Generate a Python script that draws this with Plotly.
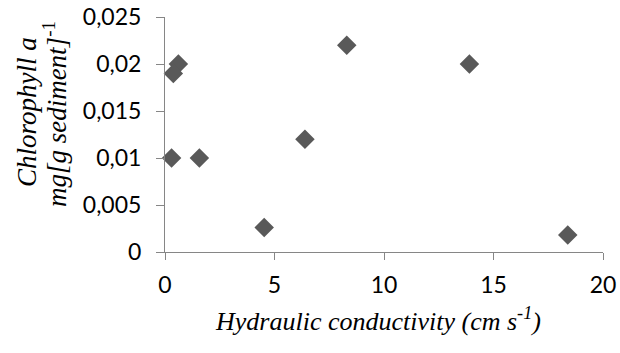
import plotly.graph_objects as go

# Data
hydraulic_conductivity = [0.61, 0.38, 0.30, 1.57, 4.53, 6.39, 8.30, 13.90, 18.39]
chlorophyll_a = [0.020, 0.019, 0.010, 0.010, 0.0026, 0.012, 0.022, 0.020, 0.0018]

x_ticks = [0, 5, 10, 15, 20]
y_ticks = [0, 0.005, 0.01, 0.015, 0.02, 0.025]

fig = go.Figure()
fig.add_trace(go.Scatter(
    x=hydraulic_conductivity, y=chlorophyll_a, mode="markers",
    marker=dict(symbol="diamond", size=15, color="#595959", line=dict(width=0)),
    showlegend=False, cliponaxis=False,
))

axis_color = "#868686"
tick_font = dict(family="Lato, Open Sans, sans-serif", size=23, color="#000000")

fig.update_layout(
    width=620, height=353,
    margin=dict(l=165, r=17, t=17, b=101),
    paper_bgcolor="white", plot_bgcolor="white",
    separators=",.",
    xaxis=dict(range=[0, 20], tickvals=x_ticks, showgrid=False, zeroline=False,
               showline=True, linecolor=axis_color, linewidth=1, automargin=False,
               ticks="outside", ticklen=7, tickcolor=axis_color, tickwidth=1,
               tickfont=tick_font, ticklabelstandoff=5),
    yaxis=dict(range=[0, 0.025], tickvals=y_ticks, showgrid=False, zeroline=False,
               showline=True, linecolor=axis_color, linewidth=1, automargin=False,
               ticks="outside", ticklen=8, tickcolor=axis_color, tickwidth=1,
               tickfont=tick_font, ticklabelstandoff=10),
)

x_title_font = dict(family="Liberation Serif, Times New Roman, serif", size=26, color="#000000")
y_title_font = dict(family="Liberation Serif, Times New Roman, serif", size=27, color="#000000")
fig.add_annotation(text="<i>Hydraulic conductivity (cm s<sup>-1</sup>)</i>",
                   xref="paper", yref="paper", x=0.4874, y=-0.289,
                   xanchor="center", yanchor="middle", showarrow=False, font=x_title_font)
fig.add_annotation(text="<i>Chlorophyll a</i>",
                   xref="paper", yref="paper", x=-0.315, y=0.596, textangle=-90,
                   xanchor="center", yanchor="middle", showarrow=False, font=y_title_font)
fig.add_annotation(text="<i>mg[g sediment]</i><sup>-1</sup>",
                   xref="paper", yref="paper", x=-0.251, y=0.587, textangle=-90,
                   xanchor="center", yanchor="middle", showarrow=False, font=y_title_font)

fig.write_html("out.html")
